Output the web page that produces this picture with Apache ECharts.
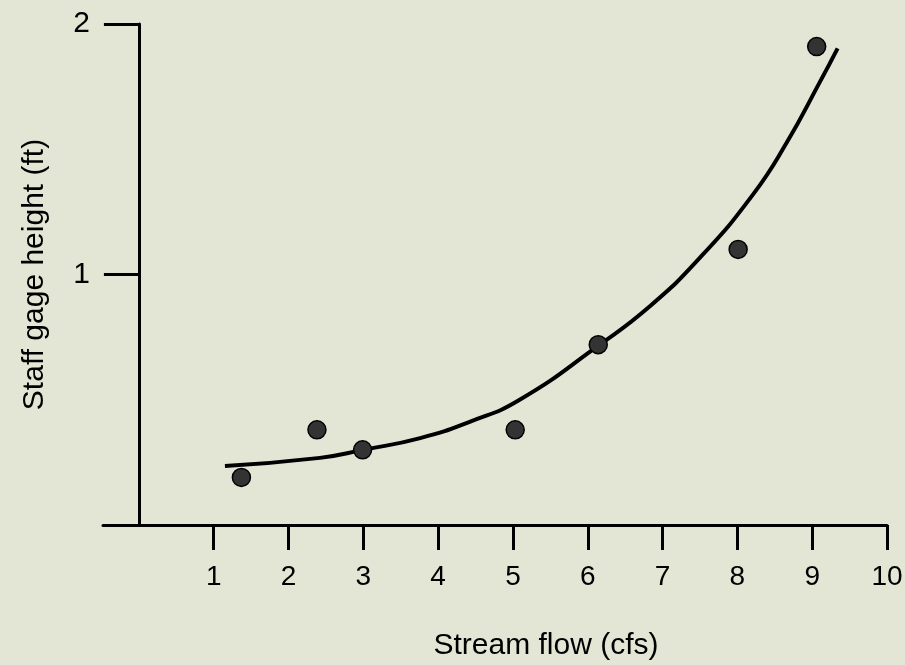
<!DOCTYPE html>
<html>
<head>
<meta charset="utf-8">
<script src="https://cdn.jsdelivr.net/npm/echarts@6/dist/echarts.min.js"></script>
<style>
html,body{margin:0;padding:0;background:#e3e6d5;}
#chart{width:905px;height:665px;}
</style>
</head>
<body>
<div id="chart"></div>
<script>
// Observed data points (stream flow cfs, gage height ft)
var pointFlow   = [1.37, 2.38, 2.99, 5.03, 6.14, 8.01, 9.06];
var pointHeight = [0.19, 0.38, 0.30, 0.38, 0.72, 1.10, 1.91];
// Fitted curve
var curveFlow   = [1.15, 2.42, 3.0, 3.76, 4.43, 5.09, 6.16, 6.83, 7.5, 8.21, 8.66, 9.10, 9.34];
var curveHeight = [0.236, 0.268, 0.300, 0.347, 0.413, 0.50, 0.72, 0.873, 1.067, 1.32, 1.527, 1.767, 1.903];
// Tick labels
var xTicks = [1, 2, 3, 4, 5, 6, 7, 8, 9, 10];
var yTicks = [1, 2];

var pts = pointFlow.map(function (x, i) { return [x, pointHeight[i]]; });
var curve = curveFlow.map(function (x, i) { return [x, curveHeight[i]]; });

var font = 'Liberation Sans, Arial, sans-serif';
var chart = echarts.init(document.getElementById('chart'), null, {renderer: 'canvas'});
chart.setOption({
  backgroundColor: '#e3e6d5',
  animation: false,
  grid: {left: 103, right: 18, top: 24, bottom: 140, outerBoundsMode: 'none', containLabel: false},
  xAxis: {
    type: 'value', min: -0.48, max: 10,
    name: 'Stream flow (cfs)', nameLocation: 'middle', nameGap: 106, nameMoveOverlap: false,
    nameTextStyle: {fontFamily: font, fontSize: 30, color: '#000', padding: [0, 0, 0, 102]},
    axisLine: {show: true, lineStyle: {color: '#000', width: 3}},
    axisTick: {show: true, customValues: xTicks, length: 25, lineStyle: {color: '#000', width: 3}},
    axisLabel: {customValues: xTicks, margin: 38, fontFamily: font, fontSize: 28, color: '#000'},
    splitLine: {show: false}
  },
  yAxis: {
    type: 'value', min: 0, max: 2,
    name: 'Staff gage height (ft)', nameLocation: 'middle', nameGap: 53, nameRotate: 90, nameMoveOverlap: false,
    nameTextStyle: {fontFamily: font, fontSize: 30, color: '#000'},
    axisLine: {show: true, onZero: true, lineStyle: {color: '#000', width: 3}},
    axisTick: {show: true, customValues: yTicks, length: 35, lineStyle: {color: '#000', width: 3}},
    axisLabel: {customValues: yTicks, margin: 13, fontFamily: font, fontSize: 30, color: '#000'},
    splitLine: {show: false}
  },
  series: [
    {
      type: 'line', data: curve, smooth: 0.5, showSymbol: false, symbol: 'none',
      lineStyle: {color: '#000', width: 4}, z: 2
    },
    {
      type: 'scatter', data: pts, symbol: 'circle', symbolSize: 18,
      itemStyle: {color: '#333', borderColor: '#000', borderWidth: 1.5, opacity: 1}, z: 3
    }
  ]
});
</script>
</body>
</html>
